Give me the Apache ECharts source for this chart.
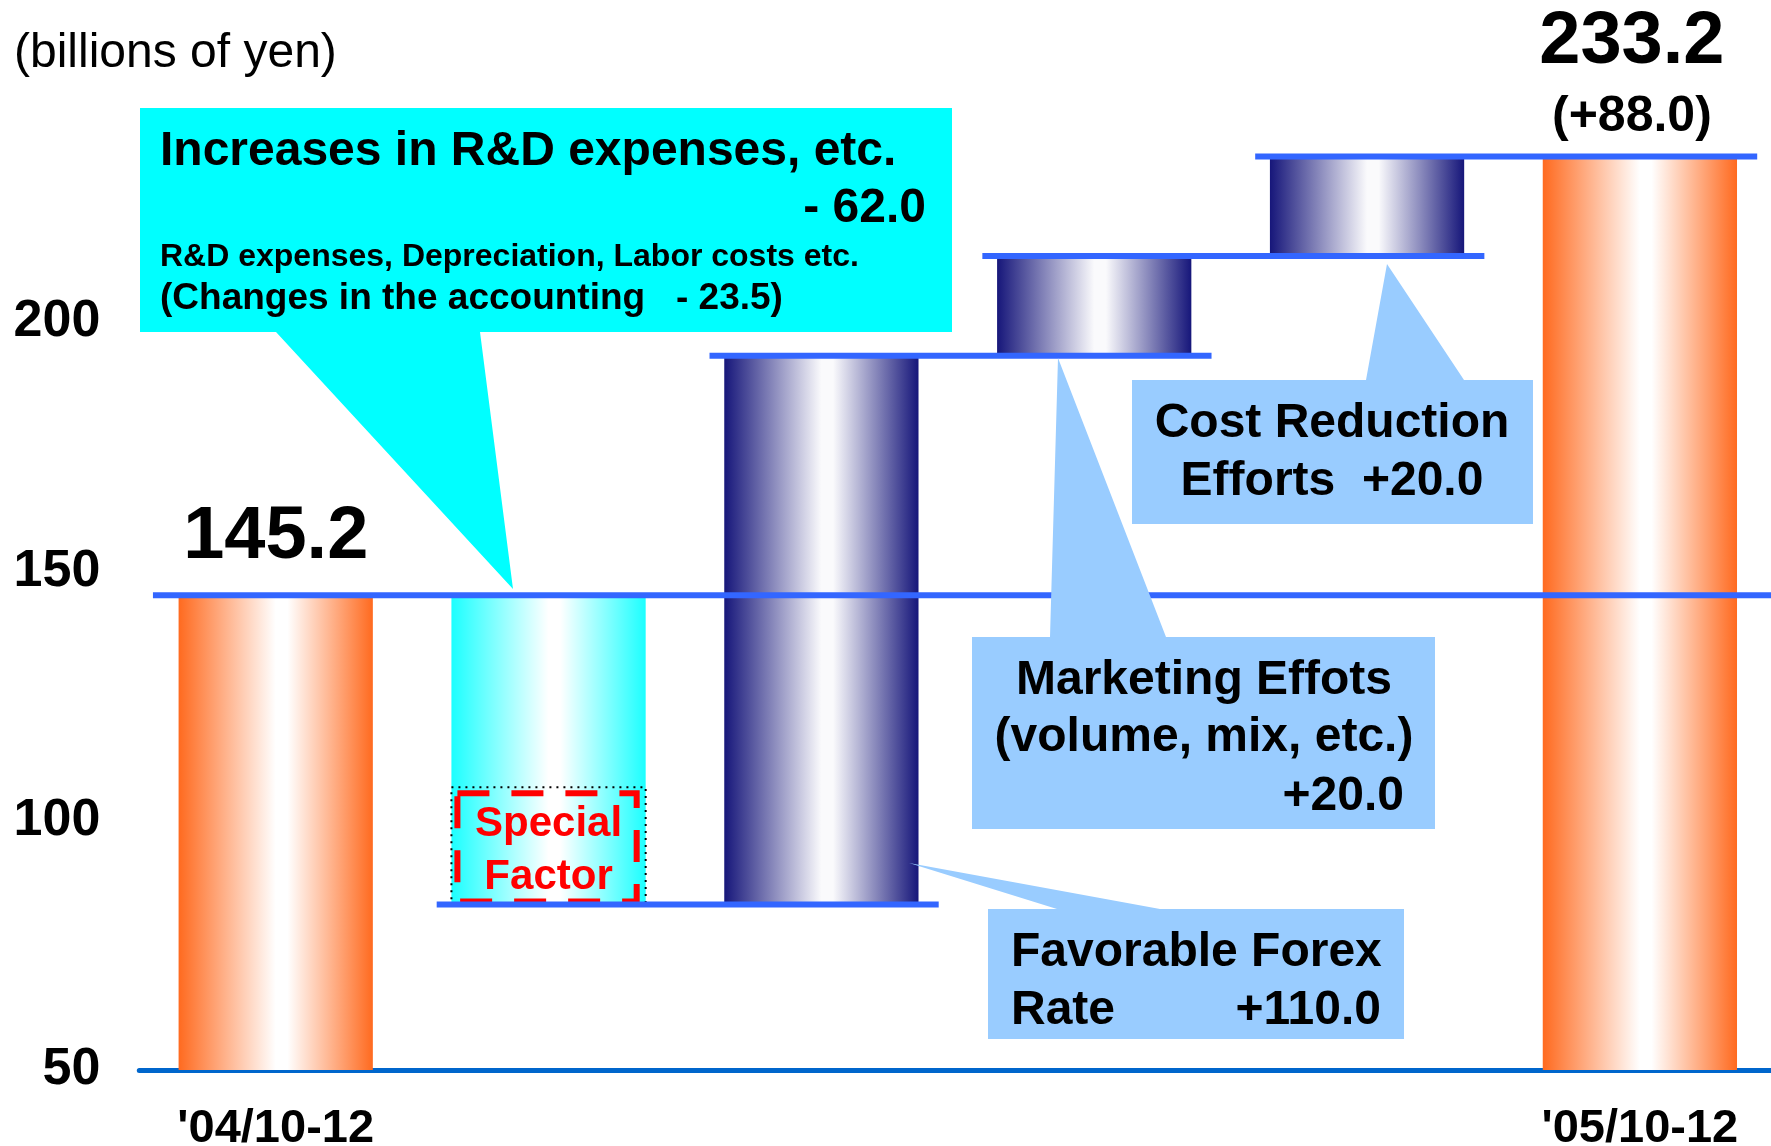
<!DOCTYPE html>
<html>
<head>
<meta charset="utf-8">
<script src="https://cdn.jsdelivr.net/npm/echarts@6/dist/echarts.min.js"></script>
<style>
  html, body { margin: 0; padding: 0; background: #ffffff; }
  #chart { width: 1771px; height: 1146px; }
</style>
</head>
<body>
<div id="chart"></div>
<script>
// Operating income bridge, billions of yen
const categories = ["'04/10-12", '', '', '', '', "'05/10-12"];
const startValue = 145.2;
const stepChanges = [-62.0, 110.0, 20.0, 20.0];
const endValue = 233.2;
const specialFactor = 23.5;
const yTicks = [50, 100, 150, 200, 250];

const FONT = '"Liberation Sans", Arial, Helvetica, sans-serif';

// waterfall bars: [index, low, high, kind]
const bars = [[0, yTicks[0], startValue, 'total']];
const levels = [startValue];
let running = startValue;
stepChanges.forEach((d, i) => {
  const next = running + d;
  bars.push([i + 1, Math.min(running, next), Math.max(running, next), d < 0 ? 'down' : 'up']);
  running = next;
  levels.push(running);
});
bars.push([categories.length - 1, yTicks[0], endValue, 'total']);

// connector lines: [fromIndex, toIndex (-1 = to right edge), level]
const connectors = [[0, -1, levels[0]]];
for (let i = 1; i < levels.length; i++) connectors.push([i, i + 1, levels[i]]);

// special factor block inside the decrease bar
const downBar = bars[1];
const specialData = [[1, downBar[1], downBar[1] + specialFactor]];

function hGrad(edge, mid) {
  return {
    type: 'linear', x: 0, y: 0, x2: 1, y2: 0,
    colorStops: [
      { offset: 0, color: edge },
      { offset: 0.5, color: mid },
      { offset: 0.56, color: mid },
      { offset: 1, color: edge }
    ]
  };
}
const fills = {
  total: hGrad('#FF6A1F', '#FFFFFF'),
  down: hGrad('#1CFFFF', '#FFFFFF'),
  up: hGrad('#16167A', '#FAFAFC')
};

const BAR_RATIO = 0.712;

const chart = echarts.init(document.getElementById('chart'), null, { renderer: 'canvas' });

// text nudge so glyphs sit on the intended centre line
const TEXT_DY = 3;

function txt(text, x, y, align, size, weight, color) {
  return {
    type: 'text', z: 11,
    style: {
      text: text, x: x, y: y + TEXT_DY,
      textAlign: align, textVerticalAlign: 'middle',
      font: (weight || 'bold') + ' ' + size + 'px ' + FONT,
      fill: color || '#000'
    }
  };
}

const option = {
  animation: false,
  backgroundColor: '#ffffff',
  grid: {
    left: 139.3, top: 72.6, width: 1637, bottom: 76,
    containLabel: false,
    outerBoundsMode: 'none'
  },
  xAxis: {
    type: 'category',
    data: categories,
    boundaryGap: true,
    axisLine: { show: true, lineStyle: { color: '#0066CC', width: 5 } },
    axisTick: { show: false },
    axisLabel: {
      interval: 0,
      margin: 36,
      color: '#000',
      fontFamily: FONT,
      fontWeight: 'bold',
      fontSize: 47
    },
    splitLine: { show: false }
  },
  yAxis: {
    type: 'value',
    min: yTicks[0],
    max: yTicks[yTicks.length - 1],
    interval: yTicks[1] - yTicks[0],
    axisLine: { show: false },
    axisTick: { show: false },
    splitLine: { show: false },
    axisLabel: {
      showMaxLabel: false,
      margin: 39,
      padding: [7, 0, 0, 0],
      color: '#000',
      fontFamily: FONT,
      fontWeight: 'bold',
      fontSize: 52
    }
  },
  series: [
    {
      type: 'custom',
      name: 'bars',
      data: bars.map(b => [b[0], b[1], b[2]]),
      z: 2,
      renderItem: function (params, api) {
        const idx = api.value(0), lo = api.value(1), hi = api.value(2);
        const kind = bars[params.dataIndex][3];
        const top = api.coord([idx, hi]);
        const bot = api.coord([idx, lo]);
        const band = api.size([1, 0])[0];
        const w = band * BAR_RATIO;
        const children = [{
          type: 'rect',
          shape: { x: top[0] - w / 2, y: top[1], width: w, height: bot[1] - top[1] },
          style: { fill: fills[kind] }
        }];
        if (params.dataIndex === 0) {
          children.push({
            type: 'text',
            style: {
              text: hi.toFixed(1), x: top[0], y: top[1] - 58,
              textAlign: 'center', textVerticalAlign: 'middle',
              font: 'bold 74px ' + FONT, fill: '#000'
            }
          });
        } else if (params.dataIndex === bars.length - 1) {
          const diff = hi - bars[0][2];
          children.push({
            type: 'text',
            style: {
              text: hi.toFixed(1), x: top[0] - 8, y: top[1] - 114,
              textAlign: 'center', textVerticalAlign: 'middle',
              font: 'bold 74px ' + FONT, fill: '#000'
            }
          });
          children.push({
            type: 'text',
            style: {
              text: '(' + (diff >= 0 ? '+' : '-') + Math.abs(diff).toFixed(1) + ')',
              x: top[0] - 8, y: top[1] - 39,
              textAlign: 'center', textVerticalAlign: 'middle',
              font: 'bold 50px ' + FONT, fill: '#000'
            }
          });
        }
        return { type: 'group', children: children };
      }
    },
    {
      type: 'custom',
      name: 'special',
      data: specialData,
      z: 3,
      renderItem: function (params, api) {
        const idx = api.value(0), lo = api.value(1), hi = api.value(2);
        const top = api.coord([idx, hi]);
        const bot = api.coord([idx, lo]);
        const band = api.size([1, 0])[0];
        const w = band * BAR_RATIO;
        const x = top[0] - w / 2, y = top[1], h = bot[1] - top[1];
        return {
          type: 'group',
          children: [
            {
              type: 'rect',
              shape: { x: x, y: y, width: w, height: h },
              style: { fill: null, stroke: '#000', lineWidth: 2, lineDash: [2, 5] }
            },
            {
              type: 'rect',
              shape: { x: x + 6, y: y + 6, width: w - 15, height: h - 9 },
              style: { fill: null, stroke: '#FF0000', lineWidth: 6, lineDash: [32, 22] }
            },
            {
              type: 'text',
              style: {
                text: 'Special', x: top[0], y: y + h * 0.29 + TEXT_DY,
                textAlign: 'center', textVerticalAlign: 'middle',
                font: 'bold 42px ' + FONT, fill: '#FF0000'
              }
            },
            {
              type: 'text',
              style: {
                text: 'Factor', x: top[0], y: y + h * 0.74 + TEXT_DY,
                textAlign: 'center', textVerticalAlign: 'middle',
                font: 'bold 42px ' + FONT, fill: '#FF0000'
              }
            }
          ]
        };
      }
    },
    {
      type: 'custom',
      name: 'connectors',
      data: connectors.map(c => [c[0], c[1], c[2]]),
      z: 4,
      renderItem: function (params, api) {
        const from = api.value(0), to = api.value(1), level = api.value(2);
        const band = api.size([1, 0])[0];
        const p = api.coord([from, level]);
        const x1 = p[0] - (to < 0 ? 0.45 : 0.41) * band;
        const x2 = to < 0
          ? params.coordSys.x + params.coordSys.width
          : api.coord([to, level])[0] + 0.43 * band;
        return {
          type: 'line',
          shape: { x1: x1, y1: p[1], x2: x2, y2: p[1] },
          style: { stroke: '#3366FF', lineWidth: 6 }
        };
      }
    }
  ],
  graphic: [
    txt('(billions of yen)', 14, 51, 'left', 48, 'normal'),
    // R&D callout
    {
      type: 'polygon', z: 10,
      shape: { points: [[140, 108], [952, 108], [952, 332], [480, 332], [513, 589], [276, 332], [140, 332]] },
      style: { fill: '#00FFFF' }
    },
    txt('Increases in R&D expenses, etc.', 160, 149, 'left', 48),
    txt('- 62.0', 926, 206, 'right', 48),
    txt('R&D expenses, Depreciation, Labor costs etc.', 160, 254, 'left', 32),
    txt('(Changes in the accounting   - 23.5)', 160, 296, 'left', 37),
    // Marketing callout
    {
      type: 'polygon', z: 10,
      shape: { points: [[972, 637], [1050, 637], [1058, 358], [1166, 637], [1435, 637], [1435, 829], [972, 829]] },
      style: { fill: '#99CCFF' }
    },
    txt('Marketing Effots', 1204, 678, 'center', 48),
    txt('(volume, mix, etc.)', 1204, 735, 'center', 48),
    txt('+20.0', 1404, 794, 'right', 48),
    // Cost reduction callout
    {
      type: 'polygon', z: 10,
      shape: { points: [[1132, 380], [1366, 380], [1387, 264], [1464, 380], [1533, 380], [1533, 524], [1132, 524]] },
      style: { fill: '#99CCFF' }
    },
    txt('Cost Reduction', 1332, 421, 'center', 48),
    txt('Efforts  +20.0', 1332, 479, 'center', 48),
    // Forex callout
    {
      type: 'polygon', z: 10,
      shape: { points: [[988, 909], [1057, 909], [909, 863], [1160, 909], [1404, 909], [1404, 1039], [988, 1039]] },
      style: { fill: '#99CCFF' }
    },
    txt('Favorable Forex', 1011, 950, 'left', 48),
    txt('Rate', 1011, 1008, 'left', 48),
    txt('+110.0', 1381, 1008, 'right', 48)
  ]
};

chart.setOption(option);
</script>
</body>
</html>
